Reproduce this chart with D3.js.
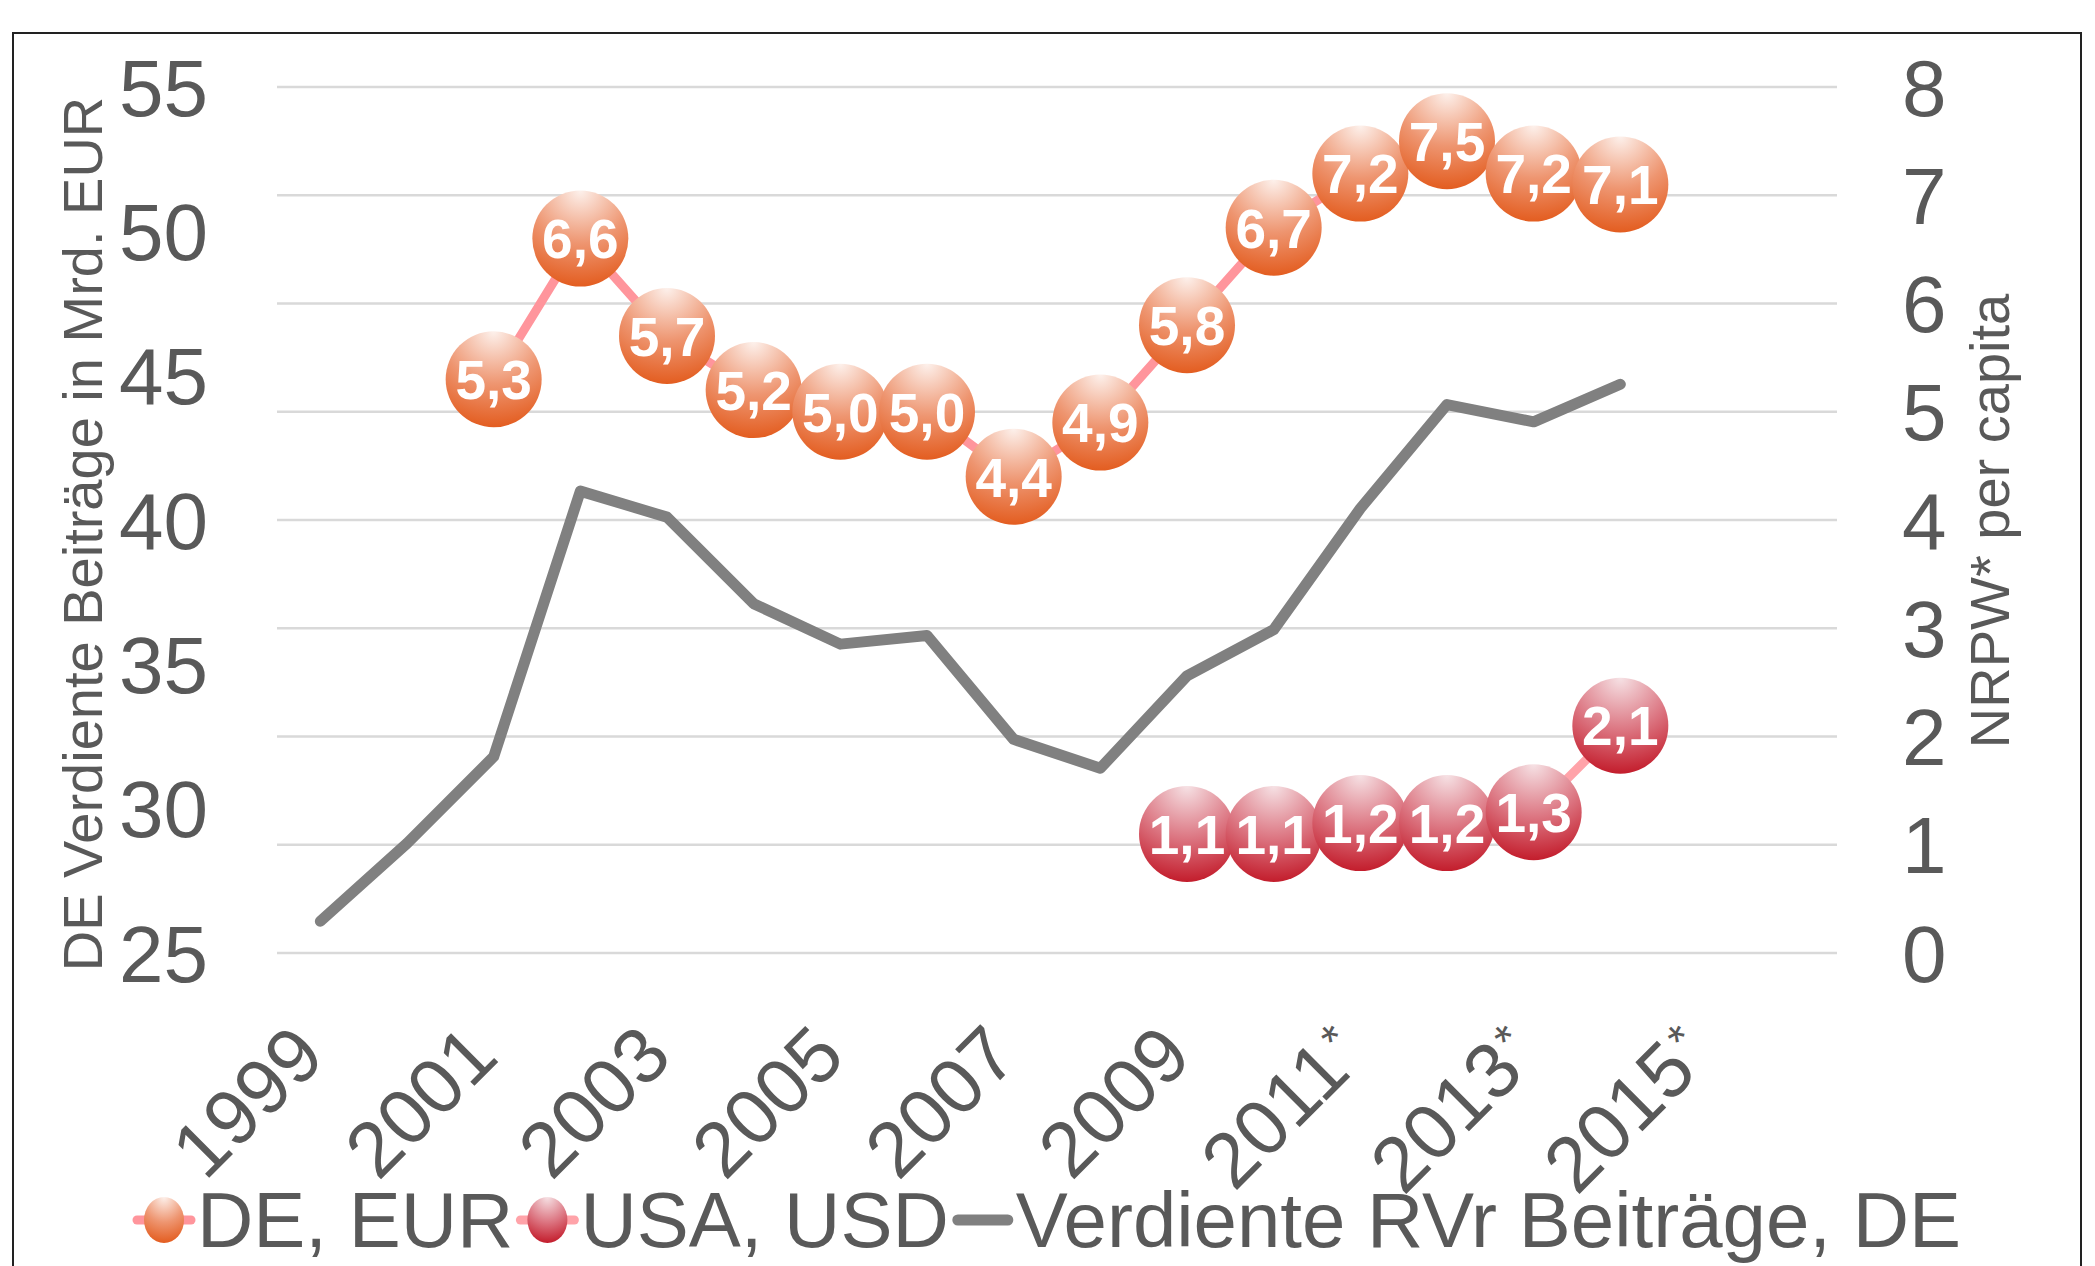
<!DOCTYPE html>
<html><head><meta charset="utf-8">
<script src="https://cdn.jsdelivr.net/npm/d3@7"></script>
<style>
html,body{margin:0;padding:0;background:#fff;}
svg{display:block;font-family:"Liberation Sans",Arial,sans-serif;}
</style></head>
<body>
<svg id="c" width="2095" height="1266"></svg>
<script>
const categories = ["1999","2000","2001","2002","2003","2004","2005","2006","2007","2008","2009","2010","2011*","2012*","2013*","2014*","2015*","2016*"];
const shownTicks = ["1999","2001","2003","2005","2007","2009","2011*","2013*","2015*"];
const deEur = [null,null,5.3,6.6,5.7,5.2,5.0,5.0,4.4,4.9,5.8,6.7,7.2,7.5,7.2,7.1,null,null];
const usaUsd = [null,null,null,null,null,null,null,null,null,null,1.1,1.1,1.2,1.2,1.3,2.1,null,null];
const verdiente = [26.1,28.8,31.8,41.0,40.1,37.1,35.7,36.0,32.4,31.4,34.6,36.2,40.4,44.0,43.4,44.7,null,null];
const leftTicks = [25,30,35,40,45,50,55];
const rightTicks = [0,1,2,3,4,5,6,7,8];
const seriesNames = ["DE, EUR","USA, USD","Verdiente RVr Beiträge, DE"];
const leftTitle = "DE Verdiente Beiträge in Mrd. EUR";
const rightTitle = "NRPW* per capita";

const svg = d3.select("#c");
const TXT = "#595959";
const plot = {l:277, r:1837, t:87, b:953};

const defs = svg.append("defs");
function grad(id, c0, c1, c2){
  const g = defs.append("radialGradient").attr("id",id)
    .attr("cx","50%").attr("cy","0%").attr("fx","50%").attr("fy","0%").attr("r","100%");
  g.append("stop").attr("offset","0%").attr("stop-color",c0);
  g.append("stop").attr("offset","55%").attr("stop-color",c1);
  g.append("stop").attr("offset","100%").attr("stop-color",c2);
}
grad("gDE","#fdf1ec","#ee9570","#e35d20");
grad("gUSA","#f6e2e5","#dc7581","#c31d2c");

// border
svg.append("rect").attr("x",13).attr("y",33).attr("width",2068).attr("height",1300)
  .attr("fill","none").attr("stroke","#222").attr("stroke-width",2);

const x = d3.scaleBand().domain(categories).range([plot.l, plot.r]).padding(0);
const cx = d => x(d) + x.bandwidth()/2;
const yL = d3.scaleLinear().domain([25,55]).range([plot.b, plot.t]);
const yR = d3.scaleLinear().domain([0,8]).range([plot.b, plot.t]);

// gridlines
svg.append("g").selectAll("line").data(rightTicks).join("line")
  .attr("x1",plot.l).attr("x2",plot.r).attr("y1",d=>yR(d)).attr("y2",d=>yR(d))
  .attr("stroke","#d9d9d9").attr("stroke-width",2.5);

// left axis
const axL = d3.axisLeft(yL).tickValues(leftTicks).tickSize(0).tickPadding(0);
const gL = svg.append("g").attr("transform","translate(208,0)").call(axL);
gL.select(".domain").remove();
gL.selectAll("text").attr("fill",TXT).attr("font-size",80).attr("font-family","Liberation Sans, Arial").attr("dy","0.35em");

// right axis
const axR = d3.axisRight(yR).tickValues(rightTicks).tickSize(0).tickPadding(0);
const gR = svg.append("g").attr("transform","translate(1902,0)").call(axR);
gR.select(".domain").remove();
gR.selectAll("text").attr("fill",TXT).attr("font-size",80).attr("font-family","Liberation Sans, Arial").attr("dy","0.35em");

// x labels (asterisk rendered small & raised)
const xl = svg.append("g").selectAll("text").data(shownTicks).join("text")
  .attr("transform",d=>`translate(${cx(d)-12},1040) rotate(-45)`)
  .attr("text-anchor","end")
  .attr("font-size",78).attr("fill",TXT);
xl.append("tspan").attr("dy","0.35em").text(d=>d.replace("*",""));
xl.filter(d=>d.includes("*")).append("tspan").attr("dx",3).attr("dy",-22).attr("font-size",46).text("*");

// axis titles
svg.append("text").attr("transform","translate(102,534) rotate(-90)")
  .attr("text-anchor","middle").attr("font-size",56).attr("fill",TXT).text(leftTitle);
svg.append("text").attr("transform","translate(2009,521) rotate(-90)")
  .attr("text-anchor","middle").attr("font-size",56).attr("fill",TXT).text(rightTitle);

// grey line
const rows = categories.map((c,i)=>({c, de:deEur[i], us:usaUsd[i], v:verdiente[i]}));
const lineV = d3.line().defined(d=>d.v!=null).x(d=>cx(d.c)).y(d=>yL(d.v));
svg.append("path").datum(rows).attr("d",lineV).attr("fill","none")
  .attr("stroke","#808080").attr("stroke-width",11).attr("stroke-linejoin","round").attr("stroke-linecap","round");

// DE & USA lines
const lineDE = d3.line().defined(d=>d.de!=null).x(d=>cx(d.c)).y(d=>yR(d.de));
const lineUS = d3.line().defined(d=>d.us!=null).x(d=>cx(d.c)).y(d=>yR(d.us));
svg.append("path").datum(rows).attr("d",lineDE).attr("fill","none").attr("stroke","#ff959c").attr("stroke-width",9);
svg.append("path").datum(rows).attr("d",lineUS).attr("fill","none").attr("stroke","#ffa3a9").attr("stroke-width",9);

const R = 48;
const deRows = rows.filter(d=>d.de!=null), usRows = rows.filter(d=>d.us!=null);
svg.append("g").selectAll("circle").data(deRows).join("circle")
  .attr("cx",d=>cx(d.c)).attr("cy",d=>yR(d.de)).attr("r",R).attr("fill","url(#gDE)");
svg.append("g").selectAll("circle").data(usRows).join("circle")
  .attr("cx",d=>cx(d.c)).attr("cy",d=>yR(d.us)).attr("r",R).attr("fill","url(#gUSA)");

const fmt = v => v.toFixed(1).replace(".",",");
function labels(data, key){
  svg.append("g").selectAll("text").data(data).join("text")
    .attr("x",d=>cx(d.c)).attr("y",d=>yR(d[key])).attr("dy","0.36em")
    .attr("text-anchor","middle").attr("font-size",55).attr("font-weight","bold")
    .attr("fill","#fff").text(d=>fmt(d[key]));
}
labels(deRows,"de");
labels(usRows,"us");

// legend
const lg = svg.append("g");
const ly = 1247, my = 1220, mw = 62;
let items = [];
seriesNames.forEach((n,i)=>{
  const g = lg.append("g");
  if(i<2){
    g.append("line").attr("x1",4).attr("x2",mw-4).attr("y1",my).attr("y2",my)
      .attr("stroke",i==0?"#ff959c":"#ffa3a9").attr("stroke-width",9).attr("stroke-linecap","round");
    g.append("ellipse").attr("cx",mw/2).attr("cy",my).attr("rx",20).attr("ry",23)
      .attr("fill",i==0?"url(#gDE)":"url(#gUSA)");
  } else {
    g.append("line").attr("x1",6).attr("x2",mw-6).attr("y1",my).attr("y2",my)
      .attr("stroke","#808080").attr("stroke-width",11).attr("stroke-linecap","round");
  }
  const t = g.append("text").attr("x",mw+2).attr("y",ly).attr("font-size",78).attr("fill",TXT).text(n);
  items.push({g, w: mw+2+t.node().getComputedTextLength()});
});
const gap = 3;
const total = d3.sum(items,d=>d.w) + gap*(items.length-1);
let x0 = 1047 - total/2;
items.forEach(it=>{ it.g.attr("transform",`translate(${x0},0)`); x0 += it.w + gap; });
</script>
</body></html>
